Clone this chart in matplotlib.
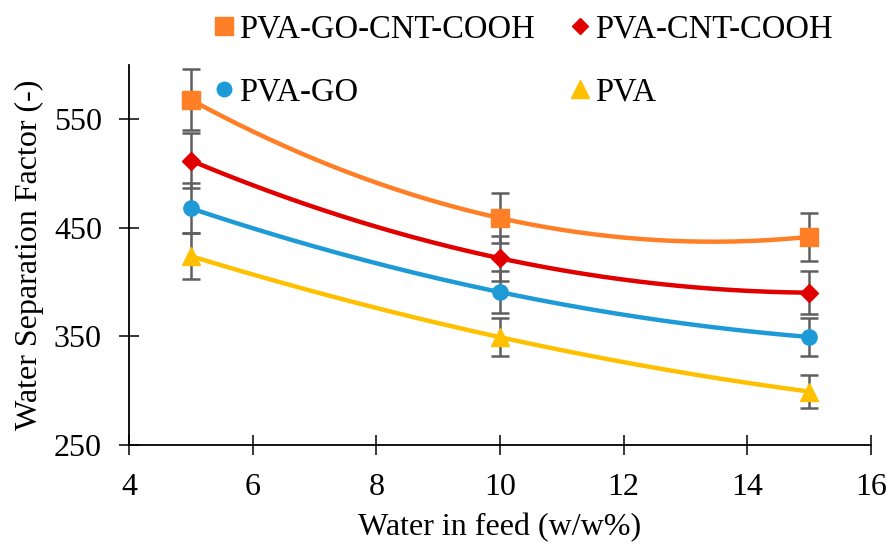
import matplotlib
matplotlib.use("Agg")
import matplotlib.pyplot as plt
import numpy as np

plt.rcParams['font.family'] = ['Liberation Serif', 'DejaVu Serif']

# Water content in feed (w/w%)
water_feed = [5, 10, 15]

# Separation factor per membrane and its error bar half-width
labels = ['PVA-GO-CNT-COOH', 'PVA-CNT-COOH', 'PVA-GO', 'PVA']
sep_go_cnt = [568, 459, 441.7]
err_go_cnt = [28, 22.7, 22.1]
sep_cnt = [512, 422, 390.3]
err_cnt = [25, 20.7, 19.6]
sep_go = [468, 390.8, 349.5]
err_go = [23, 19.6, 17.3]
sep_pva = [424, 349.3, 299.2]
err_pva = [21, 17.3, 15.3]

colors = ['#FF7F27', '#E00000', '#1E9AD6', '#FFC000']
markers = ['s', 'D', 'o', '^']
msizes = [13, 8.8, 11, 13]


def smooth(x, y, n=200):
    # interpolating curve through the measured points for a smooth line
    coef = np.polyfit(x, y, len(x) - 1)
    xs = np.linspace(min(x), max(x), n)
    return xs, np.polyval(coef, xs)


fig = plt.figure(figsize=(8.92, 5.46), dpi=100)
ax = fig.add_axes([129 / 892, 1 - 445 / 546, 742 / 892, 380 / 546])

series = [(sep_go_cnt, err_go_cnt), (sep_cnt, err_cnt), (sep_go, err_go), (sep_pva, err_pva)]
handles = []
for (y, e), c, m, ms, lab in zip(series, colors, markers, msizes, labels):
    xs, ys = smooth(water_feed, y)
    ax.plot(xs, ys, color=c, lw=3.2, zorder=2, solid_capstyle='round')
    ax.errorbar(water_feed, y, yerr=e, fmt='none', ecolor='#5F5F5F',
                elinewidth=1.8, capsize=6.5, capthick=1.8, zorder=3)
    h, = ax.plot(water_feed, y, ls='none', marker=m, ms=ms, color=c,
                 mec=c, zorder=4, label=lab)
    handles.append(h)

ax.set_xlim(4, 16)
ax.set_ylim(250, 600)
ax.set_xticks(np.arange(4, 17, 2))
ax.set_yticks([250, 350, 450, 550])
ax.spines['top'].set_visible(False)
ax.spines['right'].set_visible(False)
for s in ['left', 'bottom']:
    ax.spines[s].set_linewidth(1.3)
ax.tick_params(direction='inout', length=14, width=1.1, labelsize=23)
ax.tick_params(axis='y', pad=12.5)
ax.tick_params(axis='x', pad=13)

ax.set_xlabel('Water in feed (w/w%)', fontsize=23, labelpad=8)
ax.set_ylabel('Water Separation Factor (-)', fontsize=23, labelpad=7)

order = [0, 2, 1, 3]
fig.legend([handles[i] for i in order], [labels[i] for i in order],
           loc='upper left', bbox_to_anchor=(195 / 892, 1.0 + 6 / 546), ncol=2,
           frameon=False, fontsize=23.5, handlelength=0.55, handletextpad=0.2,
           columnspacing=1.1, labelspacing=1.02, borderaxespad=0.2,
           markerscale=0.95)

fig.savefig('out.png', dpi=100)
